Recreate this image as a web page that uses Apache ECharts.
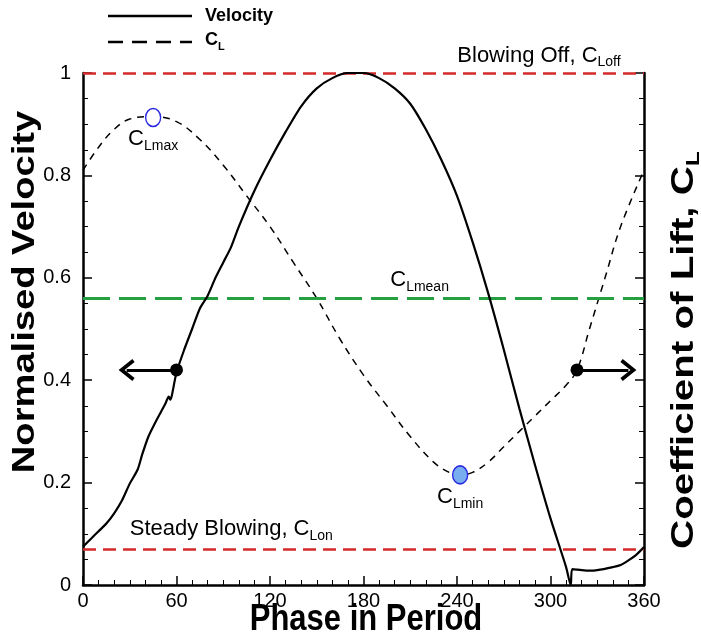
<!DOCTYPE html>
<html><head><meta charset="utf-8">
<script src="https://cdn.jsdelivr.net/npm/echarts@6/dist/echarts.min.js"></script>
<style>html,body{margin:0;padding:0;background:#fff}#c{width:701px;height:641px}</style>
</head><body><div id="c"></div>
<script>
// ---- data ----
const velPhase = [0,5,10,15,20,25,30,35,38,42,46,50,53,55,56,57,60,65,70,75,80,85,90,95,100,110,120,130,140,150,160,170,180,190,200,210,220,230,240,250,260,270,280,290,300,310,313,314,320,325,330,340,345,350,355,360];
const velValue = [0.075,0.09,0.105,0.12,0.14,0.165,0.198,0.225,0.255,0.29,0.315,0.338,0.355,0.368,0.362,0.37,0.415,0.46,0.50,0.54,0.565,0.60,0.63,0.66,0.70,0.77,0.83,0.885,0.935,0.97,0.99,1.0,1.0,0.99,0.97,0.94,0.89,0.83,0.76,0.67,0.57,0.46,0.345,0.235,0.13,0.035,0.0,0.031,0.029,0.028,0.029,0.035,0.039,0.048,0.059,0.074];
const clPhase = [0,10,20,30,45,60,75,90,105,120,135,150,165,180,195,210,225,235,242,250,260,270,280,290,300,310,317,325,335,345,360];
const clValue = [0.81,0.855,0.89,0.91,0.915,0.905,0.87,0.82,0.76,0.70,0.63,0.56,0.48,0.41,0.35,0.29,0.24,0.22,0.215,0.22,0.24,0.27,0.30,0.33,0.36,0.39,0.42,0.5,0.6,0.7,0.81];
const xTickValues = [0,60,120,180,240,300,360];
const clOff = 1.0;
const clOn = 0.075;
const clMean = 0.562;
const clMaxPoint = [45, 0.913];
const clMinPoint = [242, 0.215];
const arrowLeft = [[60, 0.42], [28, 0.42]];
const arrowRight = [[317, 0.42], [350, 0.42]];
const offLabelAt = [345, 1.0];
const onLabelAt = [30, 0.075];
const meanLabelAt = [216, 0.562];

// ---- build ----
const FONT = "'Liberation Sans', Arial, sans-serif";
const pairs = (xs, ys) => xs.map((x, i) => [x, ys[i]]);
const red = '#d42a2a', green = '#25a040', blue = '#2a2ae0';
// open chevron pointing up
const chevron = 'path://M0,12 L10,0 L20,12 L17.2,14 L10,5.2 L2.8,14 Z';
const subRich = {
  c: { fontSize: 22, fontFamily: FONT, color: '#000', padding: [0, 0, 3, 0] },
  s: { fontSize: 14, fontFamily: FONT, color: '#000', verticalAlign: 'bottom' }
};
const annot = (coord, text, pos, offset) => ({
  coord, symbol: 'circle', symbolSize: 0,
  label: { show: true, position: pos, distance: 0, offset, formatter: text, rich: subRich }
});
const dot = (coord) => ({ coord, symbol: 'circle', symbolSize: 13, itemStyle: { color: '#000' }, label: { show: false } });
const tickBase = (showLabel) => ({
  axisLine: { show: true, onZero: false, lineStyle: { color: '#000', width: 2.5 } },
  axisTick: { show: true, inside: true, length: 9, lineStyle: { color: '#000', width: 1.5 } },
  minorTick: { show: true, length: 5, lineStyle: { color: '#000', width: 1 } },
  splitLine: { show: false },
  axisLabel: { show: showLabel, color: '#000', fontSize: 20, fontFamily: FONT }
});
const arrowLine = (pts) => ({
  silent: true,
  symbol: ['none', chevron],
  symbolSize: [22, 16],
  lineStyle: { color: '#000', width: 2.8, type: 'solid' },
  itemStyle: { color: '#000' },
  label: { show: false },
  emphasis: { disabled: true },
  data: [[{ coord: pts[0] }, { coord: pts[1] }]]
});

const chart = echarts.init(document.getElementById('c'));
chart.setOption({
  animation: false,
  backgroundColor: '#fff',
  grid: { left: 83, right: 57, top: 73, bottom: 56 },
  xAxis: Object.assign(tickBase(true), {
    type: 'value', min: 0, max: 360, interval: 60,
    minorTick: { show: true, splitNumber: 6, length: 5, lineStyle: { color: '#000', width: 1 } },
    axisLabel: { color: '#000', fontSize: 20, fontFamily: FONT, margin: 6, customValues: xTickValues }
  }),
  yAxis: [
    Object.assign(tickBase(true), {
      type: 'value', min: 0, max: 1, interval: 0.2, position: 'left',
      minorTick: { show: true, splitNumber: 4, length: 5, lineStyle: { color: '#000', width: 1 } },
      axisLabel: { color: '#000', fontSize: 20, fontFamily: FONT, margin: 12 }
    }),
    Object.assign(tickBase(false), {
      type: 'value', min: 0, max: 1, interval: 0.2, position: 'right',
      minorTick: { show: true, splitNumber: 4, length: 5, lineStyle: { color: '#000', width: 1 } }
    })
  ],
  graphic: [
    // legend
    { type: 'line', shape: { x1: 108, y1: 16, x2: 192, y2: 16 }, style: { stroke: '#000', lineWidth: 2.5 } },
    { type: 'text', x: 205, y: 16, style: { text: 'Velocity', font: 'bold 18px ' + FONT, fill: '#000', align: 'left', verticalAlign: 'middle' } },
    { type: 'line', shape: { x1: 108, y1: 42, x2: 192, y2: 42 }, style: { stroke: '#000', lineWidth: 2.5, lineDash: [15, 9] } },
    { type: 'text', x: 205, y: 42, style: { text: '{b|C}{s|L}', fill: '#000', align: 'left', verticalAlign: 'middle',
        rich: { b: { font: 'bold 18px ' + FONT, fill: '#000', padding: [0, 0, 3, 0] }, s: { font: 'bold 11px ' + FONT, fill: '#000', verticalAlign: 'bottom' } } } },
    // axis titles
    { type: 'text', x: 25, y: 292, rotation: Math.PI / 2, scaleX: 1.23,
      style: { text: 'Normalised Velocity', font: 'bold 31px ' + FONT, fill: '#000', align: 'center', verticalAlign: 'middle' } },
    { type: 'text', x: 686, y: 350, rotation: Math.PI / 2, scaleX: 1.3,
      style: { text: '{b|Coefficient of Lift, C}{s|L}', fill: '#000', align: 'center', verticalAlign: 'middle',
        rich: { b: { font: 'bold 31px ' + FONT, fill: '#000', padding: [0, 0, 4, 0] }, s: { font: 'bold 19px ' + FONT, fill: '#000', verticalAlign: 'bottom' } } } },
    { type: 'text', x: 366, y: 620, scaleY: 1.2,
      style: { text: 'Phase in Period', font: 'bold 31px ' + FONT, fill: '#000', align: 'center', verticalAlign: 'middle' } }
  ],
  series: [
    {
      name: 'Velocity', type: 'line', yAxisIndex: 0, data: pairs(velPhase, velValue),
      showSymbol: false, symbol: 'none', smooth: 0.25, z: 5,
      lineStyle: { color: '#000', width: 2.2 }, itemStyle: { color: '#000' },
      markLine: arrowLine(arrowLeft),
      markPoint: { silent: true, data: [dot(arrowLeft[0])] }
    },
    {
      name: 'CL', type: 'line', yAxisIndex: 1, data: pairs(clPhase, clValue),
      showSymbol: false, symbol: 'none', smooth: 0.4, z: 4,
      lineStyle: { color: '#000', width: 1.5, type: [7, 6] }, itemStyle: { color: '#000' },
      markLine: {
        silent: true, symbol: 'none', label: { show: false },
        data: [
          { yAxis: clOff, lineStyle: { color: red, width: 2.5, type: [13, 7] } },
          { yAxis: clOn, lineStyle: { color: red, width: 2.5, type: [13, 7] } },
          { yAxis: clMean, lineStyle: { color: green, width: 3, type: [27, 9] } }
        ]
      },
      markPoint: {
        silent: true,
        data: [
          { coord: clMaxPoint, symbol: 'circle', symbolSize: [15, 18],
            itemStyle: { color: '#fff', borderColor: blue, borderWidth: 1.5 },
            label: { show: true, position: 'bottom', distance: 1, formatter: '{c|C}{s|Lmax}', rich: subRich } },
          { coord: clMinPoint, symbol: 'circle', symbolSize: [15, 18],
            itemStyle: { color: '#78aef0', borderColor: blue, borderWidth: 1.5 },
            label: { show: true, position: 'bottom', distance: 1, formatter: '{c|C}{s|Lmin}', rich: subRich } },
          annot(offLabelAt, '{c|Blowing Off, C}{s|Loff}', 'left', [0, -16]),
          annot(onLabelAt, '{c|Steady Blowing, C}{s|Lon}', 'right', [0, -16]),
          annot(meanLabelAt, '{c|C}{s|Lmean}', 'inside', [0, -16])
        ]
      }
    },
    {
      name: 'arrowR', type: 'line', yAxisIndex: 1, data: [], symbol: 'none',
      markLine: arrowLine(arrowRight),
      markPoint: { silent: true, data: [dot(arrowRight[0])] }
    }
  ]
});
</script></body></html>
